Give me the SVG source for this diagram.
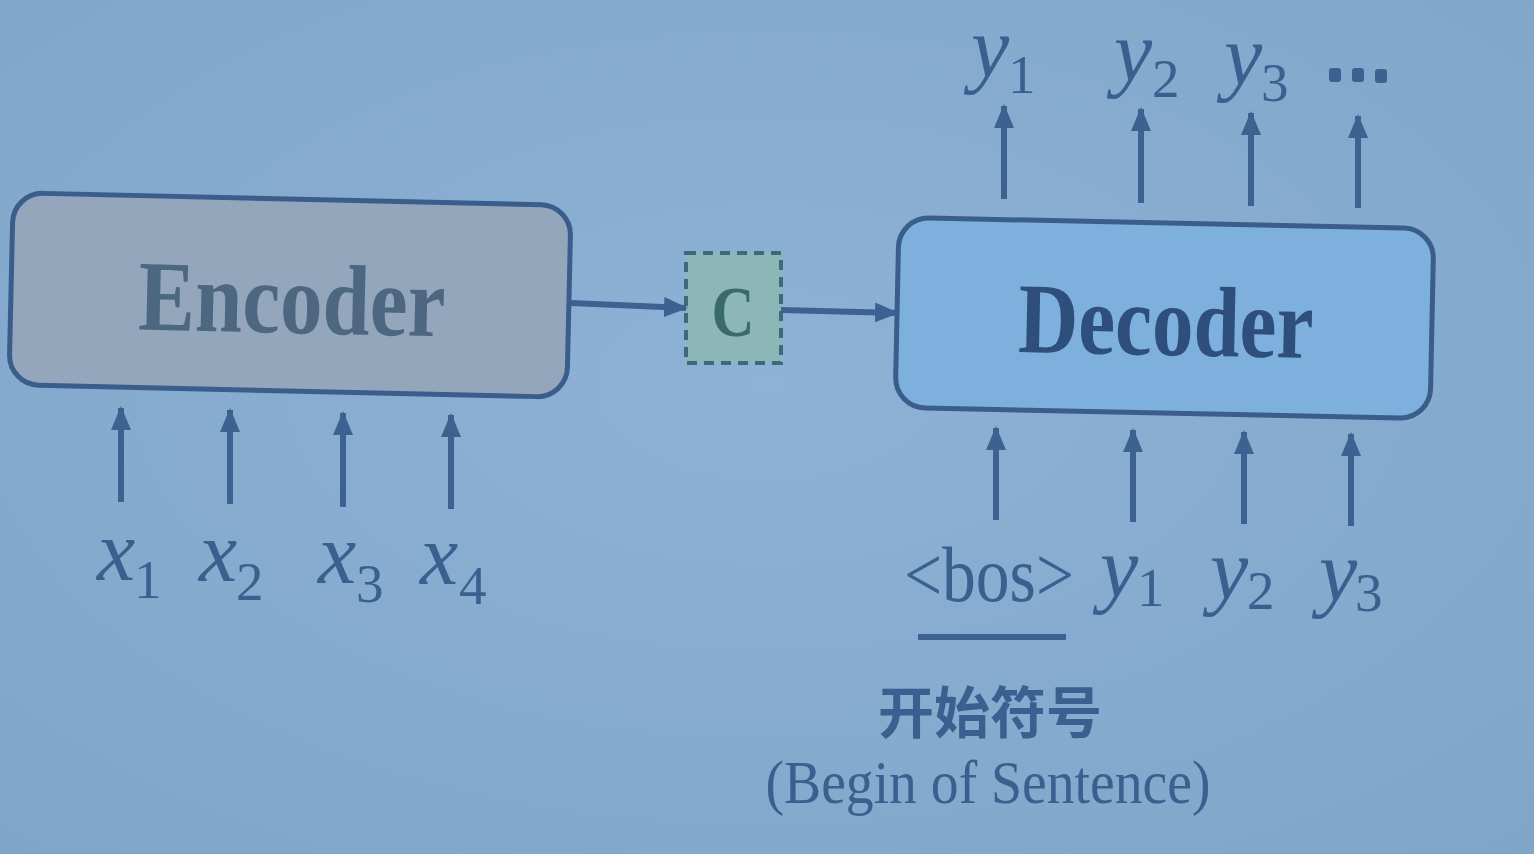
<svg xmlns="http://www.w3.org/2000/svg" width="1534" height="854" viewBox="0 0 1534 854">
<defs>
<radialGradient id="bg" cx="0.5" cy="0.45" r="0.75">
<stop offset="0" stop-color="#8db2d6"/>
<stop offset="1" stop-color="#7fa5c9"/>
</radialGradient>
<marker id="ah" markerWidth="24" markerHeight="20" refX="22" refY="10" orient="auto" markerUnits="userSpaceOnUse">
<path d="M0,0 L24,10 L0,20 z" fill="#3d6190"/>
</marker>
<style>
.conn{stroke:#3d6190;stroke-width:6;fill:none;marker-end:url(#ah)}
.box{stroke:#3a5d8c;stroke-width:5}
.var{font-family:"Liberation Serif",serif;font-style:italic;font-size:86px;fill:#3a6090}
.sub{font-family:"Liberation Serif",serif;font-size:55px;fill:#3a6090}
.title{font-family:"Liberation Serif",serif;font-weight:bold;font-size:100px}
.lbl{font-family:"Liberation Serif",serif;fill:#3a6090}
</style>
</defs>
<rect width="1534" height="854" fill="url(#bg)"/>

<g id="encoder">
<rect class="box" x="11" y="199" width="558" height="192" rx="30" fill="#93a6bc" transform="rotate(1.3 290 295)"/>
<text class="title" x="292" y="333" text-anchor="middle" textLength="307" lengthAdjust="spacingAndGlyphs" fill="#4e6781" transform="rotate(1.3 292 300)">Encoder</text>
</g>

<g id="context">
<rect x="686" y="253" width="95" height="110" fill="#8db7b6" stroke="#3b6b78" stroke-width="4" stroke-dasharray="10,7"/>
<text x="733" y="336" text-anchor="middle" font-family="Liberation Serif,serif" font-weight="bold" font-size="72" textLength="43" lengthAdjust="spacingAndGlyphs" fill="#3a6a6c">C</text>
</g>

<g id="decoder">
<rect class="box" x="897" y="223" width="535" height="190" rx="30" fill="#7eb0de" transform="rotate(1.2 1165 318)"/>
<text class="title" x="1166" y="355" text-anchor="middle" textLength="295" lengthAdjust="spacingAndGlyphs" fill="#2e4e7b" transform="rotate(1.2 1166 322)">Decoder</text>
</g>

<g id="connectors">
<line class="conn" x1="571" y1="303" x2="686" y2="308"/>
<line class="conn" x1="781" y1="310" x2="897" y2="313"/>
<line class="conn" x1="121" y1="502" x2="121" y2="408"/>
<line class="conn" x1="230" y1="504" x2="230" y2="410"/>
<line class="conn" x1="343" y1="507" x2="343" y2="413"/>
<line class="conn" x1="451" y1="509" x2="451" y2="415"/>
<line class="conn" x1="996" y1="520" x2="996" y2="428"/>
<line class="conn" x1="1133" y1="522" x2="1133" y2="430"/>
<line class="conn" x1="1244" y1="524" x2="1244" y2="432"/>
<line class="conn" x1="1351" y1="526" x2="1351" y2="434"/>
<line class="conn" x1="1004" y1="199" x2="1004" y2="106"/>
<line class="conn" x1="1141" y1="203" x2="1141" y2="109"/>
<line class="conn" x1="1251" y1="206" x2="1251" y2="113"/>
<line class="conn" x1="1358" y1="208" x2="1358" y2="116"/>
</g>

<g id="inputs-x">
<text class="var" x="97" y="580">x</text><text class="sub" x="134" y="598">1</text>
<text class="var" x="199" y="581">x</text><text class="sub" x="236" y="600">2</text>
<text class="var" x="318" y="583">x</text><text class="sub" x="356" y="602">3</text>
<text class="var" x="420" y="584">x</text><text class="sub" x="459" y="604">4</text>
</g>

<g id="inputs-y">
<text class="lbl" x="904" y="601" font-size="78" textLength="170" lengthAdjust="spacingAndGlyphs">&lt;bos&gt;</text>
<text class="var" x="1100" y="596">y</text><text class="sub" x="1137" y="606">1</text>
<text class="var" x="1210" y="598">y</text><text class="sub" x="1247" y="609">2</text>
<text class="var" x="1319" y="600">y</text><text class="sub" x="1355" y="611">3</text>
</g>

<g id="outputs-y">
<text class="var" x="971" y="76">y</text><text class="sub" x="1008" y="93">1</text>
<text class="var" x="1114" y="80">y</text><text class="sub" x="1152" y="97">2</text>
<text class="var" x="1224" y="84">y</text><text class="sub" x="1261" y="101">3</text>
<g fill="#3d6190">
<rect x="1329" y="68" width="12" height="14" rx="3"/>
<rect x="1352" y="68" width="12" height="14" rx="3"/>
<rect x="1375" y="69" width="12" height="14" rx="3"/>
</g>
</g>

<g id="bos-note">
<line x1="918" y1="637" x2="1066" y2="637" stroke="#3d6190" stroke-width="6"/>
<text x="990" y="733" text-anchor="middle" font-family="Noto Sans CJK SC,sans-serif" font-weight="bold" font-size="56" fill="#3a6090">开始符号</text>
<text class="lbl" x="988" y="803" text-anchor="middle" font-size="62" textLength="445" lengthAdjust="spacingAndGlyphs">(Begin of Sentence)</text>
</g>
</svg>
